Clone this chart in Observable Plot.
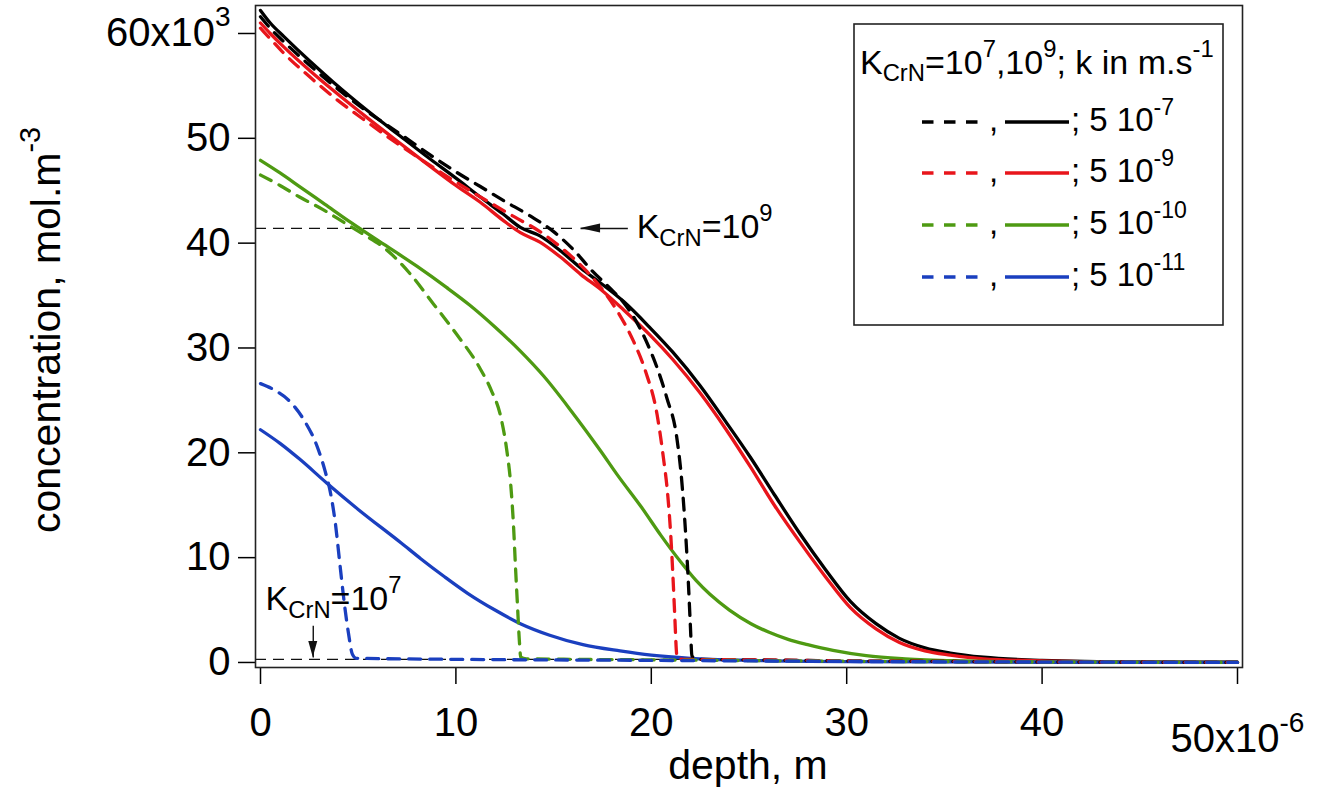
<!DOCTYPE html>
<html><head><meta charset="utf-8">
<script src="https://cdn.jsdelivr.net/npm/d3@7"></script>
<script src="https://cdn.jsdelivr.net/npm/@observablehq/plot@0.6"></script>
<style>
html,body{margin:0;padding:0;background:#fff;}
svg{display:block;}
</style></head><body>
<script>
// ---- data (depth in 1e-6 m, concentration in 1e3 mol.m^-3) ----
const kLabels = ["5 10^{-7}", "5 10^{-9}", "5 10^{-10}", "5 10^{-11}"];

// K_CrN = 1e9 (solid)
const xK9_k7 = [0,0.5,1.2,2.56,3.7,5.5,7.16,8.7,10,11.25,12.4,13.3,14.3,15.4,16.4,17.4,18.6,19.95,21.1,22.5,23.8,25.06,26.3,27.6,28.9,30.2,31.5,32.7,34,35.3,37,40,45,50];
const yK9_k7 = [62.2,61.0,59.7,57.3,55.4,52.6,50.2,48.0,46.2,44.4,42.8,41.5,40.7,39.2,37.6,36.2,34.4,31.9,29.6,26.4,23.0,19.6,16.0,12.3,8.9,5.8,3.7,2.3,1.4,0.9,0.5,0.2,0.05,0.02];
const xK9_k9 = xK9_k7;
const yK9_k9 = [61.0,60.0,58.7,56.4,54.6,51.9,49.5,47.3,45.5,43.9,42.2,41.0,40.1,38.6,37.0,35.6,33.6,31.2,28.9,25.7,22.3,18.7,15.0,11.5,8.2,5.2,3.2,1.9,1.1,0.7,0.35,0.15,0.04,0.01];
const xK9_k10 = [0,1,2,3.3,4.6,6.3,8,9.5,10.7,12,13.3,14.5,15.9,17.4,18.3,19.5,20.5,21.5,22.3,23,24,25.1,26,27,28,29.3,31,33,36,40,45,50];
const yK9_k10 = [47.9,46.7,45.4,43.7,42.0,39.9,37.8,35.8,34.1,32.0,29.7,27.3,24.0,20.2,17.8,14.8,12.1,9.6,7.8,6.5,5.0,3.7,2.9,2.2,1.7,1.15,0.65,0.35,0.15,0.05,0.02,0];
const xK9_k11 = [0,1,2,3.4,5,7.2,8.2,9.4,10.6,12,13.3,14.8,16.5,18.4,20,22,25,30,40,50];
const yK9_k11 = [22.2,20.9,19.4,17.1,14.6,11.4,9.9,8.2,6.6,5.0,3.7,2.6,1.7,1.1,0.7,0.4,0.2,0.08,0.02,0];

// K_CrN = 1e7 (dashed)
const xK7_k7 = [0,0.5,1.2,2.56,3.7,5.5,7.16,8.7,10,11.25,12.4,13.8,15,16,17,18,18.6,19.3,19.8,20.3,20.8,21.3,21.55,21.75,21.9,22.0,22.08,22.4,25,30,35,40,45,50];
const yK7_k7 = [61.6,60.5,59.2,56.9,55.1,52.5,50.4,48.4,46.8,45.4,44.1,42.6,41.1,39.4,37.3,35.5,34.3,32.3,30.4,28.1,25.2,21.5,17.5,12.5,7.5,3.5,0.6,0.3,0.25,0.15,0.1,0.05,0.02,0];
const xK7_k9 = [0,0.5,1.2,2.56,3.7,5.5,7.16,8.7,9.6,11.8,13,14.3,15.5,16.7,17.4,18.3,19.1,19.7,20.3,20.6,20.85,21.0,21.1,21.2,21.28,21.32,21.6,25,30,35,40,45,50];
const yK7_k9 = [60.5,59.5,58.1,55.8,54.0,51.5,49.3,47.4,46.3,43.8,42.5,41.1,39.4,37.3,35.8,33.4,30.6,27.8,23.6,19.8,15.8,12.0,8.5,4.5,1.2,0.4,0.3,0.25,0.15,0.1,0.05,0.02,0];
const xK7_k10 = [0,1,2,3.2,4.25,5.3,6.3,7.6,8.85,10,11.25,11.8,12.3,12.6,12.8,12.95,13.05,13.15,13.25,13.32,13.6,20,30,40,50];
const yK7_k10 = [46.5,45.5,44.4,43.2,42.0,40.8,39.6,37.2,34.2,31.4,28.0,26.0,23.4,20.3,17.1,13.0,9.1,5.5,2.0,0.5,0.35,0.25,0.12,0.04,0];
const xK7_k11 = [0,0.7,1.5,2.2,2.9,3.3,3.6,3.85,4.05,4.3,4.5,4.7,4.9,10,20,30,40,50];
const yK7_k11 = [26.6,26.0,24.9,23.2,20.6,18.3,16.0,13.0,9.6,5.5,2.8,0.8,0.4,0.3,0.2,0.1,0.04,0];

// axes
const xTicks = [0,10,20,30,40,50];
const xTickLabels = ["0","10","20","30","40","50x10^{-6}"];
const yTicks = [0,10,20,30,40,50,60];
const yTickLabels = ["0","10","20","30","40","50","60x10^{3}"];

// annotations (reference levels, arrows, labels)
const refY = [41.4, 0.29];
const refX1 = [-0.256, -0.256];
const refX2 = [16.2, 22];
const arrowX1 = [18.8, 2.7], arrowY1 = [41.4, 3.5];
const arrowX2 = [16.38, 2.7], arrowY2 = [41.4, 0.48];
const annX = [19.25, 0.26], annY = [40.45, 4.96];
const annText = ["K_{CrN}=10^{9}", "K_{CrN}=10^{7}"];

// ---- styles ----
const colors = ["#000000","#e8151b","#4e9a12","#1a3fbf"];
const FONT = '"Liberation Sans", Arial, Helvetica, sans-serif';

function build(xs, ys, k, K) { return xs.map((x, i) => ({x, y: ys[i], k, K})); }
const solidRows = [
  ...build(xK9_k7, yK9_k7, kLabels[0], "1e9"),
  ...build(xK9_k9, yK9_k9, kLabels[1], "1e9"),
  ...build(xK9_k10, yK9_k10, kLabels[2], "1e9"),
  ...build(xK9_k11, yK9_k11, kLabels[3], "1e9")
];
const dashedRows = [
  ...build(xK7_k7, yK7_k7, kLabels[0], "1e7"),
  ...build(xK7_k9, yK7_k9, kLabels[1], "1e7"),
  ...build(xK7_k10, yK7_k10, kLabels[2], "1e7"),
  ...build(xK7_k11, yK7_k11, kLabels[3], "1e7")
];

const chart = Plot.plot({
  width: 1318, height: 793,
  marginLeft: 255, marginRight: 76, marginTop: 5, marginBottom: 126,
  style: {fontFamily: FONT, background: "white", overflow: "visible"},
  x: {domain: [-0.256, 50.256]},
  y: {domain: [-0.48, 62.67]},
  color: {domain: kLabels, range: colors},
  marks: [
    Plot.ruleY([0, 1], {y: i => refY[i], x1: i => refX1[i], x2: i => refX2[i],
      stroke: "#111", strokeWidth: 1.3, strokeDasharray: "11,7"}),
    Plot.line(solidRows, {x: "x", y: "y", z: "k", stroke: "k", strokeWidth: 3.3, curve: "monotone-x"}),
    Plot.line(dashedRows, {x: "x", y: "y", z: "k", stroke: "k", strokeWidth: 3.3, strokeDasharray: "12,9", curve: "monotone-x"}),
    Plot.link([0, 1], {x1: i => arrowX1[i], y1: i => arrowY1[i], x2: i => arrowX2[i], y2: i => arrowY2[i],
      stroke: "#111", strokeWidth: 1.4}),
    Plot.text([0, 1], {x: i => annX[i], y: i => annY[i], text: i => annText[i],
      textAnchor: "start", lineAnchor: "bottom", fontSize: 34, fill: "black"}),
    Plot.axisX({ticks: xTicks, tickFormat: d => xTickLabels[xTicks.indexOf(d)], tickSize: 17, tickPadding: 23,
      fontSize: 40, label: null, color: "black", strokeWidth: 1.5}),
    Plot.axisY({ticks: yTicks, tickFormat: d => yTickLabels[yTicks.indexOf(d)], tickSize: 17, tickPadding: 8,
      fontSize: 40, label: null, color: "black", strokeWidth: 1.5}),
    Plot.frame({stroke: "#222", strokeWidth: 1.6})
  ]
});
document.body.appendChild(chart);

// arrow heads using the chart's scales
const sx = chart.scale("x"), sy = chart.scale("y");
const g = d3.select(chart).append("g").attr("font-family", FONT).attr("fill", "black");
[0, 1].forEach(i => {
  const x1 = sx.apply(arrowX1[i]), y1 = sy.apply(arrowY1[i]);
  const x2 = sx.apply(arrowX2[i]), y2 = sy.apply(arrowY2[i]);
  const a = Math.atan2(y2 - y1, x2 - x1), L = i === 0 ? 20 : 16, W = 4.5;
  const bx = x2 - L * Math.cos(a), by = y2 - L * Math.sin(a);
  const px = -Math.sin(a) * W, py = Math.cos(a) * W;
  g.append("path").attr("d", `M${x2},${y2}L${bx + px},${by + py}L${bx - px},${by - py}Z`).attr("fill", "#111");
});

// axis titles
g.append("text").attr("x", 748).attr("y", 779).attr("text-anchor", "middle").attr("font-size", 41).text("depth, m");
g.append("text").attr("transform", "translate(60,330) rotate(-90)").attr("text-anchor", "middle")
  .attr("font-size", 41).text("concentration, mol.m^{-3}");

// legend
const lg = g.append("g").attr("text-anchor", "start");
lg.append("rect").attr("x", 854).attr("y", 24).attr("width", 369).attr("height", 301)
  .attr("fill", "white").attr("stroke", "#222").attr("stroke-width", 1.6);
lg.append("text").attr("x", 860).attr("y", 74).attr("font-size", 34).text("K_{CrN}=10^{7},10^{9}; k in m.s^{-1}");
const rowY = [122, 173, 225, 277];
kLabels.forEach((k, i) => {
  const y = rowY[i];
  lg.append("line").attr("x1", 922).attr("x2", 978).attr("y1", y).attr("y2", y)
    .attr("stroke", colors[i]).attr("stroke-width", 3.3).attr("stroke-dasharray", "11.5,10.5");
  lg.append("text").attr("x", 989).attr("y", y + 9).attr("font-size", 33).text(",");
  lg.append("line").attr("x1", 1005).attr("x2", 1069).attr("y1", y).attr("y2", y)
    .attr("stroke", colors[i]).attr("stroke-width", 3.3);
  lg.append("text").attr("x", 1071).attr("y", y + 9).attr("font-size", 33).text("; " + k);
});

// rich text: ^{sup} and _{sub}
const SMALL = 0.7, SUP = 0.5, SUB = 0.22;
function rich(el, s, F, extraDy) {
  const parts = s.split(/(\^\{[^}]*\}|_\{[^}]*\})/).filter(p => p.length);
  while (el.firstChild) el.removeChild(el.firstChild);
  let cur = 0, first = true;
  for (const p of parts) {
    let off = 0, size = F, txt = p;
    if (p.startsWith("^{")) { off = -SUP * F; size = SMALL * F; txt = p.slice(2, -1); }
    else if (p.startsWith("_{")) { off = SUB * F; size = SMALL * F; txt = p.slice(2, -1); }
    const t = document.createElementNS("http://www.w3.org/2000/svg", "tspan");
    t.setAttribute("dy", (off - cur + (first ? extraDy : 0)).toFixed(2));
    t.setAttribute("font-size", size.toFixed(2));
    t.textContent = txt;
    el.appendChild(t);
    cur = off; first = false;
  }
}
chart.querySelectorAll("text").forEach(el => {
  const s = el.textContent;
  if (/[\^_]\{/.test(s)) {
    const F = parseFloat(getComputedStyle(el).fontSize);
    rich(el, s, F, s.startsWith("50x10") ? 16 : 0);
  }
});
</script>
</body></html>
